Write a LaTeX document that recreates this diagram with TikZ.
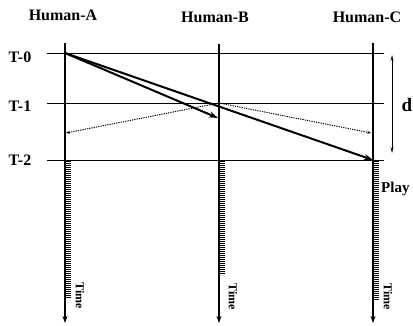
\documentclass[tikz,border=0pt]{standalone}
\usepackage{fontspec}
\setmainfont{Liberation Serif}
\usetikzlibrary{arrows.meta}

\begin{document}
\begin{tikzpicture}[x=1pt, y=-1pt,
  lbl/.style={font=\bfseries\fontsize{15}{17}\selectfont},
  life/.style={line width=1.2pt, -{Stealth[length=7pt, width=5pt]}},
  hatch/.style={line width=4.5pt, dash pattern=on 0.7pt off 1.3pt},
  msg/.style={line width=2pt, -{Stealth[length=9pt, width=6pt]}},
  echo/.style={line width=1pt, dash pattern=on 1.2pt off 1.1pt, -{Stealth[length=4pt, width=3pt]}}]
  \useasboundingbox (0,0) rectangle (413,325);

  % Participants
  \node[lbl, font=\bfseries\fontsize{16}{18}\selectfont] (hA) at (63,15) {Human-A};
  \node[lbl, font=\bfseries\fontsize{16}{18}\selectfont] (hB) at (215,17) {Human-B};
  \node[lbl, font=\bfseries\fontsize{16}{18}\selectfont] (hC) at (367,17) {Human-C};

  % Time levels
  \node[lbl, font=\bfseries\fontsize{16}{18}\selectfont] (t0) at (20,57) {T-0};
  \node[lbl, font=\bfseries\fontsize{16}{18}\selectfont] (t1) at (20,106) {T-1};
  \node[lbl, font=\bfseries\fontsize{16}{18}\selectfont] (t2) at (20,160) {T-2};
  \coordinate (t0l) at (47,53);  \coordinate (t0r) at (384,53);
  \coordinate (t1l) at (47,103); \coordinate (t1r) at (384,103);
  \coordinate (t2l) at (47,160); \coordinate (t2r) at (384,160);
  \draw[line width=0.9pt] (t0l) -- (t0r);
  \draw[line width=0.9pt] (t1l) -- (t1r);
  \draw[line width=0.9pt] (t2l) -- (t2r);

  % Life lines
  \coordinate (aTop) at (65,43);  \coordinate (aBot) at (65,323);
  \coordinate (bTop) at (219,44); \coordinate (bBot) at (219,323);
  \coordinate (cTop) at (373,43); \coordinate (cBot) at (373,323);
  \draw[life] (aTop) -- (aBot);
  \draw[life] (bTop) -- (bBot);
  \draw[life] (cTop) -- (cBot);

  % Playing periods
  \draw[hatch] (68.5,161) -- (68.5,298);
  \draw[hatch] (222.5,161) -- (222.5,275);
  \draw[hatch] (376.5,161) -- (376.5,300);

  % Messages from A
  \coordinate (a0) at (65,53);
  \coordinate (bHit) at (218,118);
  \coordinate (c2) at (373,160);
  \draw[msg] (a0) -- (bHit);
  \draw[msg] (a0) -- (c2);

  % Echo from B
  \coordinate (b1) at (219,103);
  \coordinate (aEcho) at (66,133);
  \coordinate (cEcho) at (371,133);
  \draw[echo] (b1) -- (aEcho);
  \draw[echo] (b1) -- (cEcho);

  % Delay
  \coordinate (dTop) at (392,55);
  \coordinate (dBot) at (392,153);
  \draw[line width=0.7pt, {Stealth[length=6pt, width=3pt, open]}-{Stealth[length=6pt, width=3pt, open]}] (dTop) -- (dBot);
  \node[font=\bfseries\fontsize{19}{21}\selectfont] (d) at (407,105) {d};

  \node[lbl, anchor=west, inner sep=0pt] (play) at (381,189) {Play};
  \node[lbl, font=\bfseries\fontsize{12}{14}\selectfont, rotate=-90] (timeA) at (80,296) {Time};
  \node[lbl, font=\bfseries\fontsize{12}{14}\selectfont, rotate=-90] (timeB) at (233,297) {Time};
  \node[lbl, font=\bfseries\fontsize{12}{14}\selectfont, rotate=-90] (timeC) at (388,297) {Time};
\end{tikzpicture}
\end{document}
